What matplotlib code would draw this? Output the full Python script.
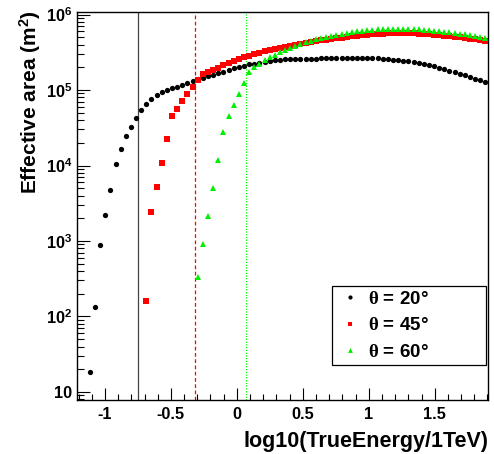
import matplotlib
matplotlib.use("Agg")
import matplotlib.pyplot as plt
import numpy as np
from matplotlib.lines import Line2D
from matplotlib.ticker import FixedLocator, FuncFormatter, LogLocator, MultipleLocator

plt.rcParams["font.family"] = ["Liberation Sans", "DejaVu Sans"]
plt.rcParams["font.weight"] = "bold"
plt.rcParams["mathtext.fontset"] = "custom"
plt.rcParams["mathtext.rm"] = "Liberation Sans:bold"
plt.rcParams["mathtext.it"] = "Liberation Sans:bold"
plt.rcParams["mathtext.bf"] = "Liberation Sans:bold"
plt.rcParams["mathtext.sf"] = "Liberation Serif"
plt.rcParams["mathtext.default"] = "rm"
plt.rcParams["axes.unicode_minus"] = False

# histogram binning in log10(E/TeV): 80 bins
bin_edges = np.linspace(-1.212, 1.904, 81)
bin_centers = 0.5 * (bin_edges[:-1] + bin_edges[1:])

# effective area (m^2) per bin, first filled bin given separately
first_bin_20 = 2
area_20 = [
    18.4, 132, 877, 2190, 4740, 10400, 16500, 24600, 32400, 42200,
    54800, 65800, 76000, 85100, 94100, 100000, 105000, 111000, 116000, 124000,
    132000, 139000, 146000, 152000, 160000, 168000, 175000, 184000, 193000, 202000,
    210000, 218000, 224000, 231000, 237000, 242000, 247000, 250000, 255000, 256000,
    257000, 258000, 260000, 260000, 261000, 263000, 263000, 264000, 264000, 265000,
    266000, 267000, 268000, 268000, 266000, 265000, 262000, 259000, 256000, 252000,
    248000, 244000, 240000, 235000, 228000, 221000, 213000, 206000, 197000, 189000,
    181000, 172000, 164000, 157000, 149000, 141000, 134000, 126000,
]

first_bin_45 = 13
area_45 = [
    159, 2400, 5240, 10900, 22700, 44600, 56000, 70900, 87700, 109000,
    136000, 161000, 173000, 186000, 197000, 214000, 230000, 242000, 257000, 271000,
    285000, 300000, 312000, 326000, 339000, 352000,
    364000, 376000, 387000, 398000, 409000, 421000, 432000, 443000, 454000, 465000,
    475000, 485000, 496000, 505000, 514000, 524000, 532000, 540000, 547000, 553000,
    559000, 562000, 564000, 565000, 565000, 564000, 562000, 559000, 553000, 548000,
    542000, 535000, 527000, 519000, 510000, 500000, 491000, 481000, 471000, 461000, 451000,
]

first_bin_60 = 23
area_60 = [
    330, 904, 2120, 5040, 11800, 28000, 45300, 62600, 88500, 124000, 171000, 202000,
    223000, 247000, 274000, 293000, 319000, 342000, 363000, 386000, 407000, 432000,
    450000, 469000, 488000, 508000, 524000, 540000, 557000, 569000, 586000, 599000,
    610000, 620000, 627000, 635000, 641000, 645000, 647000, 647000, 647000, 645000,
    641000, 637000, 631000, 623000, 614000, 605000, 594000, 583000, 571000, 559000,
    545000, 532000, 519000, 507000, 494000,
]

labels = [r"$\mathsf{\theta}$ = 20°", r"$\mathsf{\theta}$ = 45°", r"$\mathsf{\theta}$ = 60°"]
thresholds = [-0.752, -0.32, 0.068]

fig = plt.figure(figsize=(4.94, 4.54), dpi=100)
ax = fig.add_axes([77 / 494, 1 - 400 / 454, 411 / 494, 388 / 454])

ax.axvline(thresholds[0], color="#444444", lw=0.9, ls="-", zorder=1)
ax.axvline(thresholds[1], color="#ff0000", lw=0.9, ls=(0, (3, 2)), zorder=1)
ax.axvline(thresholds[2], color="#00ff00", lw=0.9, ls=(0, (1, 1.2)), zorder=1)

series = [
    (first_bin_20, area_20, "o", "black", 3.8),
    (first_bin_45, area_45, "s", "#ff0000", 4.5),
    (first_bin_60, area_60, "^", "#00ee00", 4.6),
]
for start, vals, mk, col, ms in series:
    x = bin_centers[start:start + len(vals)]
    ax.plot(x, vals, ls="none", marker=mk, color=col, ms=ms, mew=0, zorder=3)

ax.set_yscale("log")
ax.set_xlim(bin_edges[0], bin_edges[-1])
ax.set_ylim(7.83, 1.08e6)

ax.xaxis.set_major_locator(MultipleLocator(0.5))
ax.xaxis.set_minor_locator(MultipleLocator(0.1))
ax.xaxis.set_major_formatter(FuncFormatter(lambda v, p: f"{v:g}"))
ax.yaxis.set_major_locator(FixedLocator([10, 1e2, 1e3, 1e4, 1e5, 1e6]))
ax.yaxis.set_minor_locator(LogLocator(base=10, subs=np.arange(2, 10)))


def ylab(v, p):
    n = int(round(np.log10(v)))
    return "10" if n == 1 else "10$^{%d}$" % n


ax.yaxis.set_major_formatter(FuncFormatter(ylab))

ax.tick_params(axis="both", which="both", direction="in", top=False, right=False,
               width=0.8, labelsize=11.8)
ax.tick_params(axis="x", which="major", length=8.5, pad=5.0)
ax.tick_params(axis="x", which="minor", length=4)
ax.tick_params(axis="y", which="major", length=9, pad=3.5)
ax.tick_params(axis="y", which="minor", length=5)
for s in ax.spines.values():
    s.set_linewidth(1.0)

ax.set_xlabel("log10(TrueEnergy/1TeV)", fontsize=15.5, fontweight="bold", ha="right", va="top")
ax.xaxis.set_label_coords(1.0, -0.08)
ax.set_ylabel("Effective area (m$^{2}$)", fontsize=15, fontweight="bold", ha="right", va="bottom")
ax.yaxis.set_label_coords(-0.083, 1.005)

handles = [
    Line2D([], [], ls="none", marker="o", color="black", ms=3, mew=0),
    Line2D([], [], ls="none", marker="s", color="#ff0000", ms=3.5, mew=0),
    Line2D([], [], ls="none", marker="^", color="#00ee00", ms=3.5, mew=0),
]
leg = ax.legend(handles, labels, loc="upper left", mode="expand",
                bbox_to_anchor=(0.620, 0.092, 0.375, 0.202), borderaxespad=0,
                fontsize=13.5, frameon=True, fancybox=False, shadow=False,
                framealpha=1, edgecolor="black", borderpad=0.25,
                labelspacing=0.5, handlelength=1.4, handletextpad=0.3)
leg.get_frame().set_linewidth(0.9)

fig.savefig("out.png", dpi=100)
